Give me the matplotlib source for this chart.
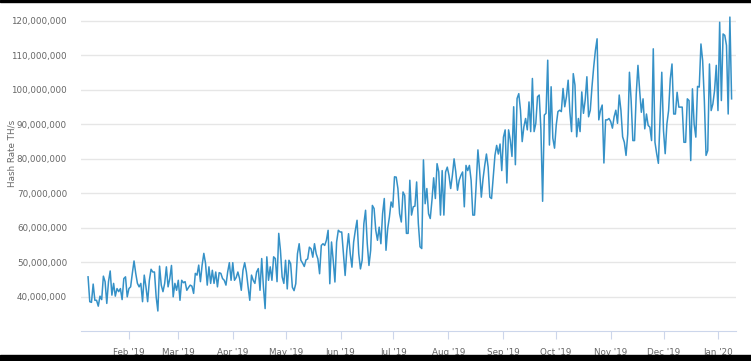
import numpy as np
import pandas as pd
import matplotlib
matplotlib.use("Agg")
import matplotlib.pyplot as plt
import matplotlib.dates as mdates
from matplotlib.ticker import FuncFormatter
from matplotlib.patches import Rectangle

# daily hash rate in millions of TH/s (Jan 2019 - Jan 2020)
jan_mar = [45.7, 38.5, 38.3, 43.6, 38.9, 38.9, 37.2, 40.1, 39.1, 45.9, 44.3, 38.0, 44.3, 47.4,
           40.4, 43.8, 40.1, 42.3, 41.4, 42.3, 39.1, 45.2, 45.7, 39.9, 42.3, 42.8, 46.7, 50.3,
           46.7, 43.8, 42.8, 43.8, 38.5, 46.2, 42.8, 38.5, 44.7, 47.9, 47.1, 47.1, 39.9, 35.8,
           48.8, 43.3, 41.4, 43.8, 48.6, 42.8, 45.2, 49.0, 39.9, 43.8, 41.8, 44.7, 38.9, 44.7,
           44.0]
mar_may = [44.3, 41.8, 42.6, 43.3, 43.0, 40.9, 46.7, 46.2, 49.1, 44.3, 49.1, 52.5, 49.6, 43.3,
           48.6, 43.8, 47.6, 43.8, 47.1, 42.8, 46.9, 46.7, 45.2, 44.7, 43.3, 47.1, 49.8, 44.7,
           49.8, 44.7, 45.5, 47.1, 45.2, 41.8, 47.6, 49.8, 47.1, 42.8, 38.9, 46.2, 44.7, 43.8,
           47.1, 48.1, 41.8, 51.0, 42.8, 36.5, 51.5, 44.7, 48.6, 44.7, 51.5, 51.0, 44.3, 58.3,
           53.4, 45.7, 43.8, 50.5]
may_jul = [42.2, 50.5, 49.5, 42.7, 41.7, 43.7, 52.4, 55.3, 50.5, 49.7, 48.7, 50.6, 50.9, 54.3,
           53.8, 51.4, 55.3, 52.4, 50.9, 46.6, 54.8, 55.3, 54.8, 56.3, 59.2, 43.7, 55.8, 50.5,
           44.2, 55.8, 59.2, 58.7, 58.7, 52.4, 46.1, 53.4, 58.2, 52.4, 48.5, 55.8, 59.2, 62.1,
           52.4, 48.0, 50.5, 61.1, 65.0, 55.3, 49.0, 53.4, 66.4, 65.5, 59.2, 56.3, 60.1, 55.3,
           64.0, 68.4, 53.4, 59.7, 63.0, 67.4, 65.9, 74.7]
jul_sep = [74.6, 71.3, 64.0, 61.6, 70.3, 69.3, 58.3, 58.3, 73.7, 63.6, 66.0, 66.2, 73.2, 61.2,
           54.4, 53.9, 79.6, 66.9, 71.3, 64.0, 62.6, 67.9, 74.4, 68.4, 78.5, 76.1, 63.6, 76.5,
           63.6, 76.1, 77.5, 75.1, 71.3, 75.1, 79.9, 76.1, 70.8, 73.7, 75.1, 76.1, 66.0, 78.0,
           76.5, 78.0, 73.7, 63.6, 63.6, 72.7, 82.5, 76.5, 68.8, 74.1, 78.0, 81.3, 77.5, 68.8,
           68.4, 74.6, 80.9, 83.8, 81.3, 84.2, 76.5, 86.2]
sep_nov = [88.3, 72.9, 88.3, 85.4, 80.6, 95.0, 78.2, 97.4, 98.8, 94.0, 84.9, 89.2, 91.6, 88.3,
           96.4, 87.8, 103.2, 87.8, 90.2, 97.9, 98.4, 88.3, 67.6, 92.6, 93.1, 108.5, 83.9, 100.8,
           85.9, 83.0, 89.7, 93.6, 94.0, 93.6, 100.3, 95.0, 97.9, 102.7, 93.6, 87.8, 104.6, 101.3,
           86.3, 91.6, 87.8, 99.3, 93.1, 96.9, 103.7, 92.1, 94.0, 100.8, 106.5, 111.3, 114.7, 91.2,
           94.0, 95.5, 78.7, 91.2, 91.2, 91.6, 90.7, 88.8, 92.1, 94.0, 90.2, 98.4, 94.0, 86.3]
nov_jan = [84.7, 80.9, 87.1, 105.0, 96.8, 85.2, 85.2, 98.7, 107.0, 99.7, 93.4, 97.3, 88.6, 92.9,
           89.6, 89.1, 85.2, 111.8, 84.7, 81.4, 78.6, 92.0, 105.0, 88.1, 81.4, 90.0, 93.9, 103.1,
           107.4, 92.9, 92.9, 99.2, 94.9, 94.9, 94.9, 84.7, 84.7, 97.3, 96.8, 79.4, 100.2, 90.0,
           86.2, 100.9, 100.7, 113.2, 108.4, 96.8, 80.9, 82.3, 107.4, 93.9, 95.8, 99.7, 107.0, 93.9,
           119.5, 96.8, 116.1, 115.7, 112.8, 92.9, 121.0, 97.3]

hash_rate = np.array(jan_mar + mar_may + may_jul + jul_sep + sep_nov + nov_jan) * 1e6
dates = pd.date_range("2019-01-09", "2020-01-08 12:00", periods=len(hash_rate))

month_ticks = pd.date_range("2019-02-01", "2020-01-01", freq="MS")
y_ticks = np.arange(40e6, 121e6, 10e6)

fig = plt.figure(figsize=(7.51, 3.61), dpi=100)
ax = fig.add_axes([81/751, 1 - 331/361, 655/751, 316/361])

ax.plot(dates, hash_rate, color="#3591c7", lw=1.1)

ax.set_ylim(30e6, 121.6e6)
ax.set_xlim(pd.Timestamp("2019-01-05"), pd.Timestamp("2020-01-11"))
ax.set_yticks(y_ticks)
ax.yaxis.set_major_formatter(FuncFormatter(lambda v, p: f"{int(v):,}"))
ax.set_xticks(month_ticks)
ax.xaxis.set_major_formatter(mdates.DateFormatter("%b '%y"))

ax.grid(axis="y", color="#e6e6e6", lw=1)
ax.set_axisbelow(True)
for s in ["top", "right", "left"]:
    ax.spines[s].set_visible(False)
ax.spines["bottom"].set_color("#ccd6eb")
ax.tick_params(axis="y", length=0, pad=10, labelsize=6.3, labelcolor="#666666")
ax.tick_params(axis="x", length=6, color="#ccd6eb", pad=6, labelsize=6.3, labelcolor="#666666")

fig.text(12/751, 1 - 153/361, "Hash Rate TH/s", rotation=90, ha="center", va="center",
         fontsize=6.3, color="#666666")

# black frame bits at top and bottom
fig.patches.append(Rectangle((0, 1 - 2/361), 1, 2/361, transform=fig.transFigure,
                             color="black", zorder=10))
fig.patches.append(Rectangle((0, 0), 1, 6/361, transform=fig.transFigure,
                             color="black", zorder=10))

fig.savefig("out.png", dpi=100)
